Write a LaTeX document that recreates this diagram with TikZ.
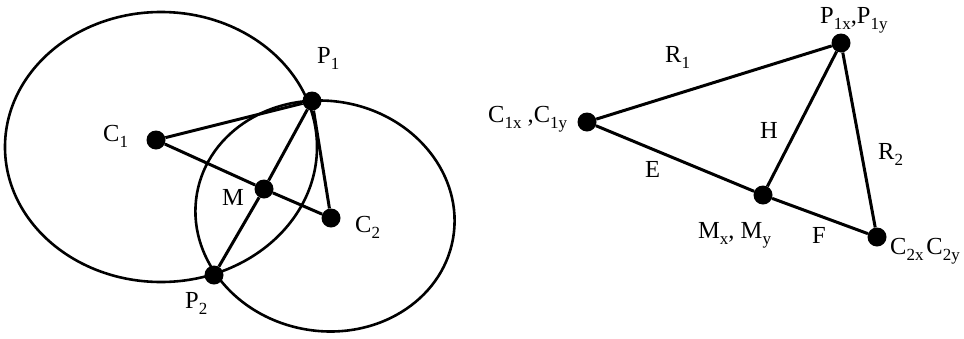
\documentclass[tikz,border=0pt]{standalone}
\usepackage{fontspec}
\setmainfont{Liberation Serif}
\newcommand\sbs[1]{\raisebox{-0.28em}{\fontsize{17}{17}\selectfont #1}}
\begin{document}
\begin{tikzpicture}[x=1pt,y=-1pt,
  dot/.style={circle,fill=black,inner sep=0pt,minimum size=19pt},
  lbl/.style={anchor=base west,inner sep=0pt,font=\fontsize{24.5}{28}\selectfont},
  seg/.style={line width=3pt},
  curve/.style={line width=2.6pt}]
\useasboundingbox (0,0) rectangle (964,338);
% circles
\draw[curve] (161,147) ellipse [x radius=156, y radius=135];
\draw[curve, rotate around={-10:(325,216)}] (325,216) ellipse [x radius=130, y radius=115];
% left nodes
\node[dot] (C1) at (156,140) {};
\node[dot] (P1) at (312,101) {};
\node[dot] (M) at (264,189) {};
\node[dot] (C2) at (331,218) {};
\node[dot] (P2) at (214,275) {};
\draw[seg] (C1) -- (P1);
\draw[seg] (C1) -- (M);
\draw[seg] (M) -- (C2);
\draw[seg] (P1) -- (M);
\draw[seg] (M) -- (P2);
\draw[seg] (P1) -- (C2);
\node[lbl] (lP1) at (317,63) {P\sbs{1}};
\node[lbl] (lC1) at (103,141) {C\sbs{1}};
\node[lbl] (lM) at (222,205) {M};
\node[lbl] (lC2) at (355,232) {C\sbs{2}};
\node[lbl] (lP2) at (185,308) {P\sbs{2}};
% right nodes
\node[dot] (Q1) at (841,43) {};
\node[dot] (D1) at (587,122) {};
\node[dot] (N) at (763,195) {};
\node[dot] (D2) at (877,237) {};
\draw[seg] (D1) -- (Q1);
\draw[seg] (D1) -- (N);
\draw[seg] (N) -- (D2);
\draw[seg] (N) -- (Q1);
\draw[seg] (Q1) -- (D2);
\node[lbl] (lQ1) at (820,23) {P\sbs{1x},P\sbs{1y}};
\node[lbl] (lR1) at (665,62) {R\sbs{1}};
\node[lbl] (lD1) at (488,122) {C\sbs{1x} ,C\sbs{1y}};
\node[lbl] (lH) at (760,138) {H};
\node[lbl] (lR2) at (878,159) {R\sbs{2}};
\node[lbl] (lE) at (645,177) {E};
\node[lbl] (lN) at (698,238) {M\sbs{x}, M\sbs{y}};
\node[lbl] (lF) at (812,243) {F};
\node[lbl] (lD2) at (890,254) {C\sbs{2x}\kern0.12em C\sbs{2y}};
\end{tikzpicture}
\end{document}
